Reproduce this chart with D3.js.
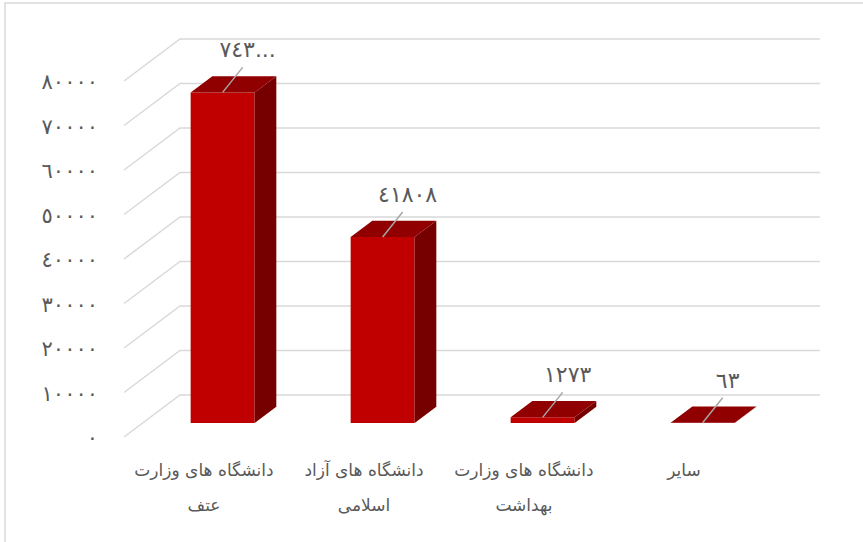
<!DOCTYPE html>
<html>
<head>
<meta charset="utf-8">
<script src="https://cdn.jsdelivr.net/npm/d3@7"></script>
<style>
    body { margin: 0; background: #fff; }
    text { font-family: "DejaVu Sans", sans-serif; fill: #595959; }
</style>
</head>
<body>
<script>
const categories = ["vezarat-atf", "azad", "behdasht", "sayer"];
const categoryLines = [
    ["دانشگاه های وزارت", "عتف"],
    ["دانشگاه های آزاد", "اسلامی"],
    ["دانشگاه های وزارت", "بهداشت"],
    ["سایر"]
];
const values = [74300, 41808, 1273, 63];
const valueLabels = ["٧٤٣...", null, null, null];
const yTicks = [0, 10000, 20000, 30000, 40000, 50000, 60000, 70000, 80000];

const arabicDigits = "٠١٢٣٤٥٦٧٨٩";
const toArabic = n => String(n).replace(/[0-9]/g, c => arabicDigits[+c]);

const W = 863, H = 542;

// front plane of the floor, and the depth vector of the whole box
const left = 124, right = 764;
const depthX = 56, depthY = -42;
const d0 = 0.333, d1 = 0.72;    // bar front / back depth

const svg = d3.select("body").append("svg")
    .attr("width", W)
    .attr("height", H);

svg.append("rect")
    .attr("x", 5).attr("y", 3)
    .attr("width", W + 20).attr("height", H + 20)
    .attr("fill", "none")
    .attr("stroke", "#d9d9d9")
    .attr("stroke-width", 1.5);

const x = d3.scaleBand()
    .domain(categories)
    .range([left, right]);

const y = d3.scaleLinear()
    .domain([0, 80000])
    .range([437, 81]);

// gridlines on the back wall + diagonals on the side wall
const grid = svg.append("g")
    .attr("stroke", "#d9d9d9")
    .attr("stroke-width", 1.5)
    .attr("fill", "none");

grid.selectAll("path")
    .data(yTicks)
    .enter().append("path")
    .attr("d", d => "M" + left + "," + y(d)
        + "L" + (left + depthX) + "," + (y(d) + depthY)
        + "L" + (right + depthX) + "," + (y(d) + depthY));

svg.append("g").selectAll("text")
    .data(yTicks)
    .enter().append("text")
    .attr("x", 98)
    .attr("y", d => y(d) + 8)
    .attr("text-anchor", "end")
    .attr("font-size", 21)
    .attr("letter-spacing", 1.5)
    .text(d => toArabic(d));

// bars
const bw = x.bandwidth() * 0.4;
const pt = (px, py, d) => [px + depthX * d, py + depthY * d];

const bars = svg.append("g").selectAll("g")
    .data(values)
    .enter().append("g");

function barGeom(v, i) {
    const cx = x(categories[i]) + x.bandwidth() / 2;
    const x0 = cx - bw / 2, x1 = cx + bw / 2;
    const yb = y(0), yt = y(v);
    return { cx, x0, x1, yb, yt };
}

const poly = pts => "M" + pts.map(p => p.join(",")).join("L") + "Z";

bars.append("path")
    .attr("fill", "#c00000")
    .attr("d", (v, i) => {
        const g = barGeom(v, i);
        return poly([pt(g.x0, g.yb, d0), pt(g.x1, g.yb, d0), pt(g.x1, g.yt, d0), pt(g.x0, g.yt, d0)]);
    });

bars.append("path")
    .attr("fill", "#760000")
    .attr("d", (v, i) => {
        const g = barGeom(v, i);
        return poly([pt(g.x1, g.yb, d0), pt(g.x1, g.yb, d1), pt(g.x1, g.yt, d1), pt(g.x1, g.yt, d0)]);
    });

bars.append("path")
    .attr("fill", "#900000")
    .attr("d", (v, i) => {
        const g = barGeom(v, i);
        return poly([pt(g.x0, g.yt, d0), pt(g.x1, g.yt, d0), pt(g.x1, g.yt, d1), pt(g.x0, g.yt, d1)]);
    });

// leader lines + data labels
bars.append("line")
    .attr("stroke", "#a6a6a6")
    .attr("stroke-width", 1.5)
    .attr("x1", (v, i) => pt(barGeom(v, i).cx, barGeom(v, i).yt, d0)[0])
    .attr("y1", (v, i) => pt(barGeom(v, i).cx, barGeom(v, i).yt, d0)[1])
    .attr("x2", (v, i) => pt(barGeom(v, i).cx, barGeom(v, i).yt, d0)[0] + 20)
    .attr("y2", (v, i) => pt(barGeom(v, i).cx, barGeom(v, i).yt, d0)[1] - 25);

bars.append("text")
    .attr("text-anchor", "middle")
    .attr("font-size", 22)
    .attr("letter-spacing", 1)
    .attr("x", (v, i) => pt(barGeom(v, i).cx, barGeom(v, i).yt, d0)[0] + 25)
    .attr("y", (v, i) => pt(barGeom(v, i).cx, barGeom(v, i).yt, d0)[1] - 35)
    .text((v, i) => valueLabels[i] || toArabic(v));

// category labels
const cat = svg.append("g").selectAll("text")
    .data(categoryLines)
    .enter().append("text")
    .attr("text-anchor", "middle")
    .attr("font-size", 17)
    .attr("direction", "rtl")
    .attr("x", (d, i) => x(categories[i]) + x.bandwidth() / 2)
    .attr("y", 476);

cat.selectAll("tspan")
    .data(d => d)
    .enter().append("tspan")
    .attr("x", function () { return d3.select(this.parentNode).attr("x"); })
    .attr("dy", (d, j) => j === 0 ? 0 : 35)
    .text(d => d);
</script>
</body>
</html>
